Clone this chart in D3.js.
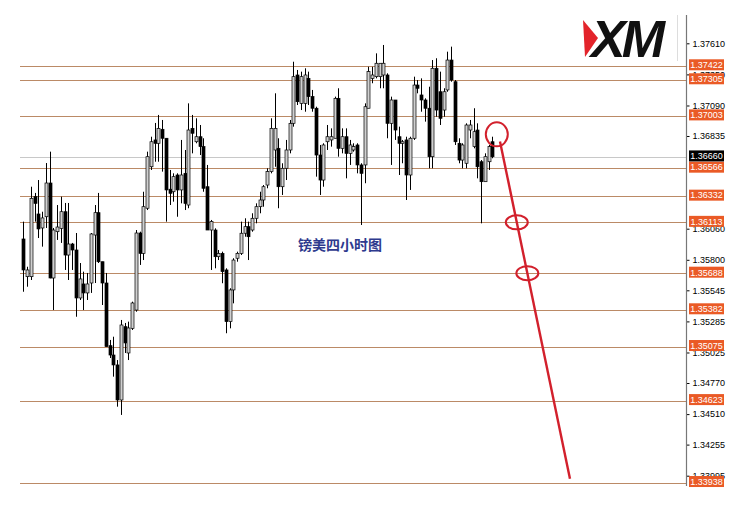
<!DOCTYPE html>
<html><head><meta charset="utf-8">
<script src="https://cdn.jsdelivr.net/npm/d3@7"></script>
<style>body{margin:0;background:#fff}svg{display:block}</style>
</head><body><svg id="c" width="746" height="513"></svg>
<script>
const openP = [1.35974,1.35659,1.35659,1.36328,1.36183,1.36066,1.36160,1.36442,1.35648,1.36035,
1.36063,1.36202,1.35840,1.35932,1.35882,1.35481,1.35598,1.35523,1.35606,1.36007,
1.36194,1.35784,1.35606,1.35082,1.35004,1.34921,1.34628,1.35241,1.35021,1.35227,
1.35380,1.36024,1.35854,1.36231,1.36578,1.36802,1.36774,1.36891,1.36816,1.36390,
1.36369,1.36509,1.36384,1.36523,1.36258,1.36899,1.36787,1.36829,1.36746,1.36411,
1.36049,1.36049,1.35826,1.35854,1.35715,1.35283,1.35548,1.35813,1.35854,1.36022,
1.36077,1.36049,1.36147,1.36244,1.36300,1.36425,1.36537,1.36718,1.36732,1.36411,
1.36565,1.36718,1.36941,1.37345,1.37108,1.37108,1.37317,1.37164,1.37067,1.36676,
1.36467,1.36787,1.36802,1.36816,1.37150,1.36732,1.36829,1.36690,1.36718,1.36760,
1.36593,1.36593,1.37067,1.37317,1.37331,1.37331,1.37345,1.37345,1.36941,1.37136,
1.36829,1.36774,1.36802,1.36509,1.36816,1.37261,1.37178,1.37136,1.37067,1.36662,
1.37401,1.37205,1.37052,1.37220,1.37470,1.37289,1.36774,1.36634,1.36607,1.36885,
1.36746,1.36885,1.36620,1.36453,1.36620,1.36787];
const highP = [1.36119,1.35742,1.36411,1.36359,1.36467,1.36202,1.36609,1.36704,1.36066,1.36258,
1.36328,1.36275,1.36275,1.35941,1.36024,1.35773,1.35701,1.35690,1.36024,1.36258,
1.36359,1.35784,1.35690,1.35130,1.35157,1.34962,1.35297,1.35272,1.35283,1.35450,
1.36049,1.36035,1.36369,1.36704,1.36829,1.36944,1.37011,1.36969,1.36816,1.36551,
1.36523,1.36523,1.36802,1.36718,1.37108,1.37011,1.36983,1.36927,1.36816,1.36593,
1.36133,1.36063,1.35882,1.35868,1.35729,1.35562,1.35813,1.35868,1.36119,1.36147,
1.36119,1.36189,1.36272,1.36369,1.36425,1.36565,1.36983,1.37192,1.36816,1.36607,
1.36802,1.36969,1.37456,1.37387,1.37373,1.37401,1.37373,1.37220,1.37080,1.36760,
1.36774,1.36927,1.36899,1.37164,1.37234,1.36899,1.36899,1.36802,1.36774,1.36774,
1.36607,1.37108,1.37414,1.37414,1.37526,1.37443,1.37596,1.37359,1.37164,1.37136,
1.36913,1.36802,1.36829,1.36829,1.37331,1.37303,1.37317,1.37150,1.37247,1.37470,
1.37485,1.37373,1.37234,1.37540,1.37582,1.37303,1.36816,1.36774,1.36941,1.36969,
1.37067,1.36941,1.36634,1.36690,1.36760,1.36829];
const lowP = [1.35533,1.35575,1.35631,1.36119,1.35982,1.35910,1.36066,1.35645,1.35380,1.35966,
1.35941,1.35715,1.35631,1.35715,1.35324,1.35464,1.35380,1.35464,1.35523,1.35606,
1.35773,1.35422,1.35074,1.34979,1.34823,1.34572,1.34503,1.35021,1.34962,1.35213,
1.35366,1.35757,1.35798,1.36216,1.36551,1.36620,1.36620,1.36537,1.36119,1.36258,
1.36286,1.36160,1.36272,1.36216,1.36231,1.36690,1.36774,1.36676,1.36369,1.36049,
1.35715,1.35729,1.35798,1.35604,1.35186,1.35227,1.35436,1.35784,1.35840,1.35993,
1.35798,1.36035,1.36105,1.36189,1.36244,1.36398,1.36523,1.36578,1.36231,1.36342,
1.36467,1.36690,1.36913,1.37094,1.37052,1.37038,1.37094,1.37038,1.36495,1.36342,
1.36411,1.36718,1.36746,1.36816,1.36662,1.36690,1.36481,1.36593,1.36704,1.36523,
1.36091,1.36440,1.37067,1.37276,1.37317,1.37234,1.37234,1.36816,1.36593,1.36802,
1.36509,1.36607,1.36300,1.36384,1.36802,1.37192,1.37038,1.36955,1.36565,1.36565,
1.36996,1.36927,1.36996,1.37205,1.37289,1.36760,1.36607,1.36565,1.36565,1.36816,
1.36732,1.36481,1.36105,1.36453,1.36551,1.36649];
const closeP = [1.35715,1.35715,1.36314,1.36272,1.36058,1.36150,1.36442,1.35648,1.36049,1.36074,
1.36202,1.35840,1.35932,1.35882,1.35481,1.35640,1.35523,1.35598,1.36016,1.36194,
1.35784,1.35606,1.35074,1.35004,1.34921,1.34628,1.35255,1.35105,1.35230,1.35439,
1.36024,1.35854,1.36244,1.36662,1.36787,1.36774,1.36899,1.36816,1.36384,1.36356,
1.36495,1.36384,1.36509,1.36272,1.36885,1.36858,1.36829,1.36746,1.36398,1.36049,
1.36119,1.35826,1.35854,1.35701,1.35283,1.35548,1.35798,1.35854,1.36022,1.36077,
1.35993,1.36147,1.36244,1.36300,1.36411,1.36537,1.36899,1.36899,1.36411,1.36565,
1.36718,1.36941,1.37331,1.37122,1.37331,1.37345,1.37164,1.37067,1.36676,1.36467,
1.36760,1.36829,1.36829,1.37150,1.36732,1.36829,1.36690,1.36760,1.36746,1.36593,
1.36523,1.37080,1.37373,1.37345,1.37443,1.37443,1.37443,1.36941,1.37136,1.36885,
1.36774,1.36787,1.36509,1.36816,1.37261,1.37234,1.37136,1.37067,1.36662,1.37401,
1.37052,1.36983,1.37205,1.37470,1.37303,1.36787,1.36634,1.36760,1.36927,1.36927,
1.36871,1.36578,1.36453,1.36662,1.36746,1.36662];

const levelValues = [1.37422,1.37305,1.37003,1.36566,1.36332,1.36113,1.35688,1.35382,1.35075,1.34623,1.33938];
const currentPrice = 1.36660;
const tickValues = [1.37610,1.37350,1.37090,1.36835,1.36060,1.35800,1.35545,1.35285,1.35025,1.34770,1.34510,1.34255,1.33995];
const trendBars = [127.05, 145.7];
const trendPrices = [1.36790, 1.33970];
const markedLevels = [1.36113, 1.35688];
const topCircleBar = 126.2, topCirclePrice = 1.36849;
const titleText = "镑美四小时图";
const logoText = "XM";

const svg = d3.select("#c");
const x = d3.scaleLinear().domain([0, 125]).range([23.3, 492.3]);
const y = d3.scaleLinear().domain([1.33995, 1.37610]).range([475.7, 43.3]);
const axisX = 686, plotLeft = 20, plotTop = 15, plotBottom = 486;

// level lines
svg.append("g").selectAll("line").data(levelValues).join("line")
  .attr("x1", plotLeft).attr("x2", axisX)
  .attr("y1", d => Math.round(y(d)) + 0.5).attr("y2", d => Math.round(y(d)) + 0.5)
  .attr("stroke", "#bb8a66").attr("stroke-width", 1.2);

// current price line
svg.append("line").attr("x1", plotLeft).attr("x2", axisX)
  .attr("y1", Math.round(y(currentPrice)) + 0.5).attr("y2", Math.round(y(currentPrice)) + 0.5)
  .attr("stroke", "#c8c8c8").attr("stroke-width", 1);

// candles
const idx = d3.range(openP.length);
const cg = svg.append("g");
cg.selectAll("line").data(idx).join("line")
  .attr("x1", i => Math.round(x(i)) + 0.5).attr("x2", i => Math.round(x(i)) + 0.5)
  .attr("y1", i => y(highP[i])).attr("y2", i => y(lowP[i]))
  .attr("stroke", "#000").attr("stroke-width", 1);
cg.selectAll("rect").data(idx).join("rect")
  .attr("x", i => Math.round(x(i)) - 1)
  .attr("width", 3)
  .attr("y", i => y(Math.max(openP[i], closeP[i])))
  .attr("height", i => Math.max(1, Math.abs(y(openP[i]) - y(closeP[i]))))
  .attr("fill", i => closeP[i] >= openP[i] ? "#d0d0d0" : "#000")
  .attr("stroke", "#000").attr("stroke-width", 0.7);

// trend annotation
const red = "#d2202c";
svg.append("line")
  .attr("x1", x(trendBars[0])).attr("y1", y(trendPrices[0]))
  .attr("x2", x(trendBars[1])).attr("y2", y(trendPrices[1]))
  .attr("stroke", red).attr("stroke-width", 2.4);
svg.append("ellipse").attr("cx", x(topCircleBar)).attr("cy", y(topCirclePrice))
  .attr("rx", 11).attr("ry", 12).attr("fill", "none").attr("stroke", red).attr("stroke-width", 2);
svg.append("g").selectAll("ellipse").data(markedLevels).join("ellipse")
  .attr("cx", d => {
    const t = (d - trendPrices[0]) / (trendPrices[1] - trendPrices[0]);
    return x(trendBars[0] + t * (trendBars[1] - trendBars[0]));
  })
  .attr("cy", d => y(d))
  .attr("rx", 11).attr("ry", 7)
  .attr("fill", "none").attr("stroke", red).attr("stroke-width", 2);

// logo
const lg = svg.append("g");
lg.append("line").attr("x1", 677.5).attr("x2", 677.5).attr("y1", plotTop).attr("y2", 61)
  .attr("stroke", "#ddd");
lg.append("text").attr("x", 591).attr("y", 57)
  .attr("font-family", "Liberation Sans, Arial, sans-serif")
  .attr("font-weight", "bold").attr("font-style", "italic")
  .attr("font-size", 52).attr("letter-spacing", -4)
  .attr("fill", "#111").text(logoText);
lg.append("polygon").attr("points", "583,20 598,38 585,57").attr("fill", "#e3242b");

// title
svg.append("text").attr("x", 340).attr("y", 250).attr("text-anchor", "middle")
  .attr("font-family", "Noto Sans CJK SC, sans-serif").attr("font-weight", "bold")
  .attr("font-size", 14).attr("fill", "#2e3a8e").text(titleText);

// axis
const ax = svg.append("g").attr("transform", `translate(${axisX + 0.5},0)`)
  .call(d3.axisRight(y).tickValues(tickValues).tickFormat(d3.format(".5f")).tickSize(3).tickPadding(3));
ax.select(".domain").remove();
ax.selectAll("text").attr("font-family", "Liberation Sans, Arial, sans-serif").attr("font-size", 9).attr("fill", "#000");
ax.selectAll("line").attr("stroke", "#000");
svg.append("line").attr("x1", axisX + 0.5).attr("x2", axisX + 0.5).attr("y1", plotTop).attr("y2", plotBottom)
  .attr("stroke", "#777").attr("stroke-width", 1.2);

// level label boxes
const lb = svg.append("g").selectAll("g").data(levelValues.map(v => ({v, c: "#ea5a26"})).concat([{v: currentPrice, c: "#000"}])).join("g")
  .attr("transform", d => `translate(689,${y(d.v) - 1})`);
lb.append("rect").attr("x", 0).attr("y", -5.5).attr("width", 35).attr("height", 11).attr("fill", d => d.c);
lb.append("text").attr("x", 17.5).attr("y", 3.3).attr("text-anchor", "middle")
  .attr("font-family", "Liberation Sans, Arial, sans-serif").attr("font-size", 9)
  .attr("fill", "#fff").text(d => d3.format(".5f")(d.v));
</script></body></html>
